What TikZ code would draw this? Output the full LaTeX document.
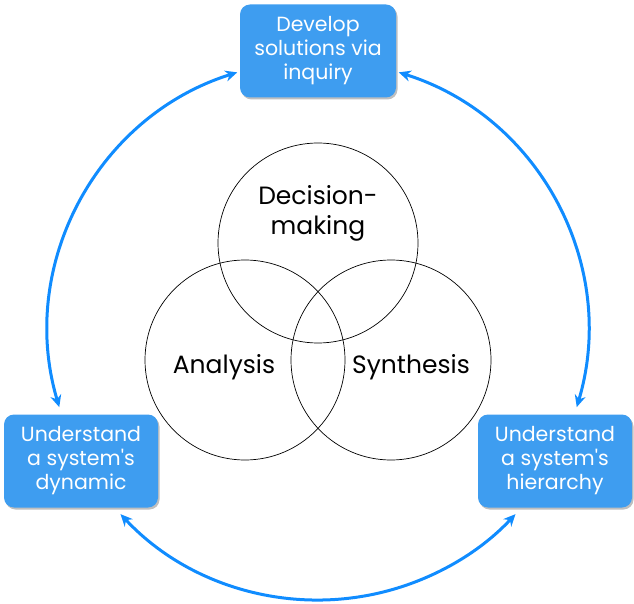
\documentclass[tikz,border=0pt]{standalone}
\usepackage{fontspec}
\setmainfont{Poppins}
\usetikzlibrary{arrows.meta,shadows,calc}
\definecolor{boxblue}{RGB}{62,157,240}
\definecolor{arrowblue}{RGB}{16,140,255}
\tikzset{
  bluebox/.style={draw=none, fill=boxblue, rounded corners=10pt, text=white,
    minimum width=156pt, minimum height=93pt, align=center, inner sep=0pt,
    font=\fontsize{20.5}{24}\selectfont,
    drop shadow={shadow xshift=1.5pt, shadow yshift=-2pt, opacity=0.25, fill=black}},
  venn/.style={draw=black, line width=0.7pt, circle, minimum size=200pt, inner sep=0pt},
  venntext/.style={font=\fontsize{25}{30}\selectfont, align=center, inner sep=0pt},
  cyc/.style={draw=arrowblue, line width=3pt, {Stealth[length=12pt,width=11pt]}-{Stealth[length=12pt,width=11pt]}}
}
\begin{document}
\begin{tikzpicture}[x=1pt,y=1pt]
\useasboundingbox (0,0) rectangle (634,603);
\coordinate (C) at (318,273);
% circles
\node[venn] (dec) at (318,360) {};
\node[venn] (ana) at (245,243) {};
\node[venn] (syn) at (391,243) {};
\node[venntext] (dect) at (318,390) {Decision-\\making};
\node[venntext] (anat) at (224,236) {Analysis};
\node[venntext] (synt) at (411,236) {Synthesis};
% boxes
\node[bluebox] (top) at (318,552) {Develop\\solutions via\\inquiry};
\node[bluebox, minimum width=154pt] (left) at (81,142) {Understand\\a system\textquotesingle s\\dynamic};
\node[bluebox, minimum width=154pt] (right) at (555,142) {Understand\\a system\textquotesingle s\\hierarchy};
% arc end points
\coordinate (a1) at ($(C)+(107.4:270)$);
\coordinate (a2) at ($(C)+(196.6:270)$);
\coordinate (b1) at ($(C)+(223:270)$);
\coordinate (b2) at ($(C)+(317:270)$);
\coordinate (c1) at ($(C)+(343.4:270)$);
\coordinate (c2) at ($(C)+(72.6:270)$);
\draw[cyc] (a1) arc[start angle=107.4, end angle=196.6, radius=270];
\draw[cyc] (b1) arc[start angle=223, end angle=317, radius=270];
\draw[cyc] (c1) arc[start angle=-16.6, end angle=72.6, radius=270];
\end{tikzpicture}
\end{document}
